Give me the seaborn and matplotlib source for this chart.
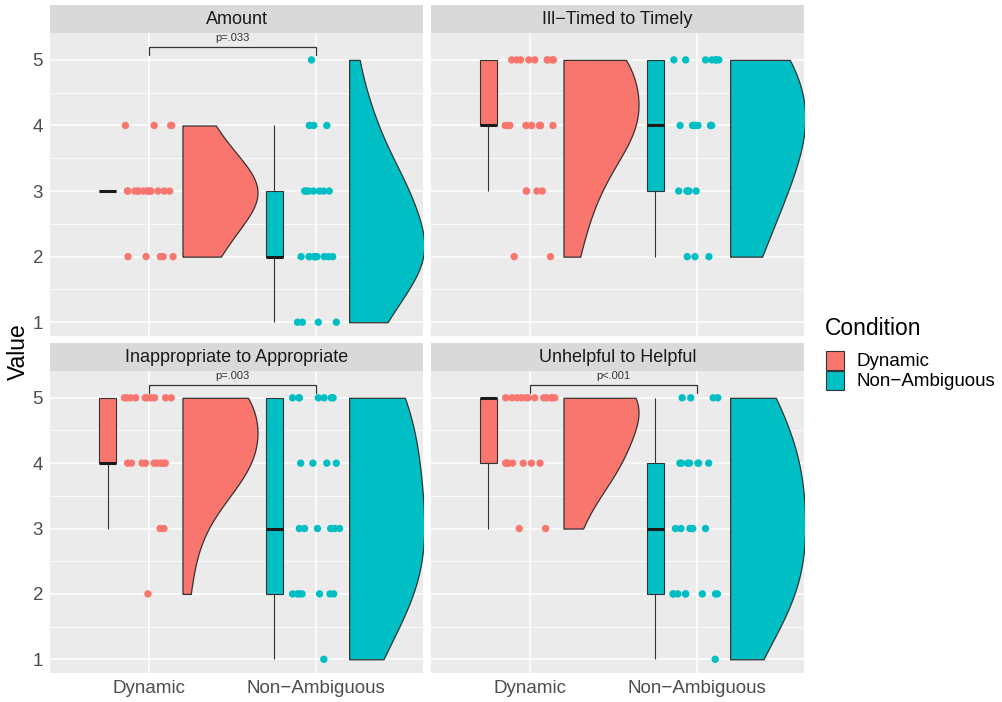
import numpy as np
import pandas as pd
import matplotlib
matplotlib.use("Agg")
import matplotlib.pyplot as plt
from matplotlib.patches import Rectangle
import seaborn as sns

# ---- data -------------------------------------------------------------
levels = [1, 2, 3, 4, 5]
conditions = ["Dynamic", "Non\u2212Ambiguous"]
facets = ["Amount", "Ill\u2212Timed to Timely",
          "Inappropriate to Appropriate", "Unhelpful to Helpful"]

# number of responses at each rating level 1..5
amount_dynamic = [0, 5, 13, 4, 0]
amount_nonamb = [4, 10, 7, 3, 1]
timely_dynamic = [0, 2, 4, 10, 9]
timely_nonamb = [0, 3, 5, 8, 7]
appropriate_dynamic = [0, 1, 2, 10, 10]
appropriate_nonamb = [1, 7, 6, 4, 7]
helpful_dynamic = [0, 0, 2, 8, 12]
helpful_nonamb = [1, 8, 5, 7, 4]

p_labels = ["p=.033", None, "p=.003", "p<.001"]

palette = {"Dynamic": "#F8766D", "Non\u2212Ambiguous": "#00BFC4"}

counts = {
    facets[0]: (amount_dynamic, amount_nonamb),
    facets[1]: (timely_dynamic, timely_nonamb),
    facets[2]: (appropriate_dynamic, appropriate_nonamb),
    facets[3]: (helpful_dynamic, helpful_nonamb),
}

rows = []
for facet, pair in counts.items():
    for cond, cnt in zip(conditions, pair):
        for lvl, n in zip(levels, cnt):
            rows += [(facet, cond, lvl)] * n
df = pd.DataFrame(rows, columns=["Facet", "Condition", "Value"])
df["pos"] = df["Condition"].map({c: i + 1 for i, c in enumerate(conditions)}).astype(float)

# ---- style --------------------------------------------------------------
sns.set_theme(style="darkgrid")
plt.rcParams["font.family"] = ["Liberation Sans", "DejaVu Sans"]

PANEL_BG = "#EBEBEB"
STRIP_BG = "#D9D9D9"
DARK = "#333333"
TICK_TXT = "#4D4D4D"


def bw_nrd0(x):
    hi = np.std(x, ddof=1)
    q75, q25 = np.percentile(x, [75, 25])
    lo = min(hi, (q75 - q25) / 1.34)
    if lo == 0:
        lo = hi if hi > 0 else 1.0
    return 0.9 * lo * len(x) ** -0.2


def half_violin(ax, values, pos, color, adjust=1.75, width=0.45, nudge=0.2):
    """Right-hand half violin (trimmed gaussian KDE, scaled to a fixed width)."""
    values = np.asarray(values, dtype=float)
    bw = bw_nrd0(values) * adjust
    grid = np.linspace(values.min(), values.max(), 512)
    dens = np.exp(-0.5 * ((grid[:, None] - values[None, :]) / bw) ** 2).sum(axis=1)
    dens = dens / dens.max() * width
    x0 = pos + nudge
    ax.fill_betweenx(grid, x0, x0 + dens, facecolor=color, edgecolor=DARK,
                     linewidth=0.9, zorder=2)


# ---- layout ------------------------------------------------------------
W, H = 1003, 702
fig = plt.figure(figsize=(W / 100, H / 100), dpi=100)
fig.patch.set_facecolor("white")

panel_x = [(50, 423), (431, 804)]
panel_y = [(33, 336), (371, 673)]
strip_y = [(5, 33), (343, 371)]


def fig_rect(x0, x1, y0, y1):
    return [x0 / W, 1 - y1 / H, (x1 - x0) / W, (y1 - y0) / H]


np.random.seed(7)
for k, facet in enumerate(facets):
    r, c = divmod(k, 2)
    px, py, sy = panel_x[c], panel_y[r], strip_y[r]
    ax = fig.add_axes(fig_rect(px[0], px[1], py[0], py[1]))
    sub = df[df["Facet"] == facet].copy()
    sub["box_pos"] = sub["pos"] - 0.25

    sns.boxplot(data=sub, x="box_pos", y="Value", hue="Condition",
                hue_order=conditions, palette=palette, native_scale=True,
                orient="x", dodge=False, width=0.1, showfliers=False,
                showcaps=False, linecolor=DARK, linewidth=0.8, saturation=1,
                legend=False, ax=ax,
                medianprops=dict(color="#1A1A1A", linewidth=2.2))
    sns.stripplot(data=sub, x="pos", y="Value", hue="Condition",
                  hue_order=conditions, palette=palette, native_scale=True,
                  orient="x", dodge=False, jitter=0.15, size=5.3, linewidth=0,
                  legend=False, ax=ax, zorder=3)
    for i, cond in enumerate(conditions):
        vals = sub.loc[sub["Condition"] == cond, "Value"].values
        half_violin(ax, vals, i + 1, palette[cond])

    if p_labels[k]:
        ax.plot([1, 1, 2, 2], [5.08, 5.2, 5.2, 5.08], color=DARK, lw=0.9,
                solid_joinstyle="miter", zorder=4)
        ax.text(1.5, 5.335, p_labels[k], ha="center", va="center",
                fontsize=8, color=DARK)

    ax.set_xlim(0.405, 2.643)
    ax.set_ylim(0.79, 5.41)
    ax.set_facecolor(PANEL_BG)
    ax.set_xticks([1, 2])
    ax.set_yticks(levels)
    ax.set_yticks([1.5, 2.5, 3.5, 4.5], minor=True)
    ax.grid(which="major", color="white", linewidth=1.1)
    ax.grid(which="minor", axis="y", color="white", linewidth=0.55)
    ax.grid(which="minor", axis="x", visible=False)
    ax.set_axisbelow(True)
    for s in ax.spines.values():
        s.set_visible(False)
    ax.set_xlabel("")
    ax.set_ylabel("")
    ax.tick_params(which="minor", length=0)
    ax.tick_params(which="major", length=3, width=0.8, color=DARK,
                   labelcolor=TICK_TXT, labelsize=13.5, pad=2)
    if r == 1:
        ax.set_xticklabels(conditions)
    else:
        ax.tick_params(axis="x", which="major", length=0, labelbottom=False)
    if c == 0:
        ax.set_yticklabels([str(v) for v in levels])
    else:
        ax.tick_params(axis="y", which="major", length=0, labelleft=False)

    # facet strip
    sax = fig.add_axes(fig_rect(px[0], px[1], sy[0], sy[1]))
    sax.set_facecolor(STRIP_BG)
    sax.set_xticks([])
    sax.set_yticks([])
    sax.grid(False)
    for s in sax.spines.values():
        s.set_visible(False)
    sax.text(0.5, 0.48, facet, ha="center", va="center", fontsize=13,
             color="#1A1A1A", transform=sax.transAxes)

# y axis title
fig.text(18 / W, 1 - 352 / H, "Value", rotation=90, ha="center", va="center",
         fontsize=16.5, color="black")

# legend
fig.text(825 / W, 1 - 328 / H, "Condition", ha="left", va="center",
         fontsize=16.5, color="black")
for i, cond in enumerate(conditions):
    top = 351 + 20 * i
    fig.add_artist(Rectangle((826 / W, 1 - (top + 19) / H), 18 / W, 19 / H,
                             transform=fig.transFigure, facecolor=palette[cond],
                             edgecolor=DARK, linewidth=0.8))
    fig.text(857 / W, 1 - (top + 10.5) / H, cond, ha="left", va="center",
             fontsize=13.5, color="black")

fig.savefig("out.png", dpi=100, facecolor="white")
